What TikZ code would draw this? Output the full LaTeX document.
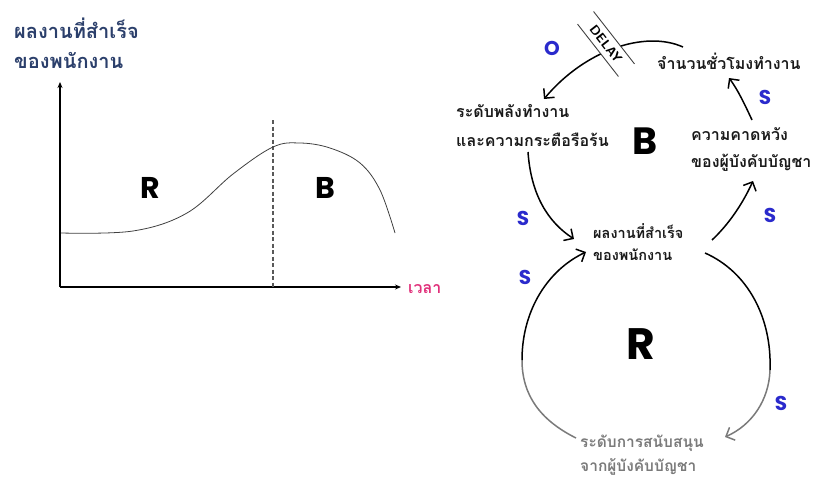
\documentclass[tikz,border=0pt]{standalone}
\usepackage{fontspec}
\usetikzlibrary{arrows.meta}
\newfontfamily\thaifont[Script=Thai]{Loma}
\newfontfamily\letterfont{Poppins}
\definecolor{navy}{HTML}{2B3F6B}
\definecolor{sblue}{HTML}{2A2ACC}
\definecolor{timepink}{HTML}{E0307A}
\definecolor{txt}{HTML}{1A1A1A}
\definecolor{light}{HTML}{7A7A7A}
\tikzset{
  axisline/.style={line width=1.3pt, -{Stealth[length=6pt,width=5pt]}},
  trendline/.style={line width=0.8pt, draw=black!75},
  divider/.style={line width=1.3pt, draw=black!65, dash pattern=on 4pt off 2.5pt},
  bigletter/.style={font=\letterfont\bfseries\fontsize{30}{30}\selectfont},
  loopletter/.style={font=\letterfont\bfseries\fontsize{44}{44}\selectfont},
  polarity/.style={text=sblue, font=\letterfont\bfseries\fontsize{20}{20}\selectfont},
  varlabel/.style={text=txt, align=left, anchor=west, inner sep=0pt},
  link/.style={line width=1.5pt, -{Straight Barb[length=7pt,width=14pt]}},
  linkplain/.style={line width=1.5pt},
  delayline/.style={line width=0.9pt, draw=black!75, shorten <=-9pt, shorten >=-9pt},
}
\begin{document}
\begin{tikzpicture}[x=1pt,y=-1pt]
\useasboundingbox (0,0) rectangle (822,482);
% ---------- left chart ----------
\node[anchor=west, inner sep=0pt, align=left, text=navy,
  font=\thaifont\bfseries\fontsize{20}{30}\selectfont] (ytitle) at (14,43) {ผลงานที่สำเร็จ\\ของพนักงาน};
\coordinate (origin) at (60,287);
\coordinate (ytop) at (60,82);
\coordinate (xend) at (401,287);
\draw[axisline] (origin) -- (ytop);
\draw[axisline] (origin) -- (xend);
\node[anchor=west, inner sep=0pt, text=timepink, font=\thaifont\bfseries\fontsize{16}{16}\selectfont] (timelbl) at (408,289) {เวลา};
\draw[divider] (273,120) -- (273,287);
\draw[trendline] plot[smooth, tension=0.6] coordinates {(61,233) (133,231) (187,213) (233,174) (273,147) (300,143) (330,148) (360,163) (380,190) (395,233)};
\node[bigletter] (chartR) at (150,188) {R};
\node[bigletter] (chartB) at (325,188) {B};
% ---------- right loop diagram ----------
\node[varlabel, font=\thaifont\bfseries\fontsize{16}{16}\selectfont] (hours) at (657,61) {จำนวนชั่วโมงทำงาน};
\node[varlabel, font=\thaifont\bfseries\fontsize{16}{29}\selectfont] (energy) at (456,126) {ระดับพลังทำงาน\\และความกระตือรือร้น};
\node[varlabel, font=\thaifont\bfseries\fontsize{16}{27}\selectfont] (expect) at (691,150) {ความคาดหวัง\\ของผู้บังคับบัญชา};
\node[varlabel, font=\thaifont\bfseries\fontsize{14.5}{22}\selectfont] (perf) at (593,242) {ผลงานที่สำเร็จ\\ของพนักงาน};
\node[varlabel, text=light, font=\thaifont\bfseries\fontsize{15.5}{24}\selectfont] (support) at (580,455) {ระดับการสนับสนุน\\จากผู้บังคับบัญชา};
\node[loopletter, font=\letterfont\bfseries\fontsize{38}{38}\selectfont] (loopB) at (645,141) {B};
\node[loopletter] (loopR) at (641,344) {R};
% connector end points
\coordinate (hoursOut) at (683,47);
\coordinate (energyIn) at (544,99);
\coordinate (expectOut) at (752,120);
\coordinate (hoursIn) at (729,78);
\coordinate (energyOut) at (528,152);
\coordinate (perfInL) at (574,239);
\coordinate (perfOutR) at (712,240);
\coordinate (expectIn) at (753,181);
\coordinate (perfOutB) at (705,253);
\coordinate (rightMid) at (770,370);
\coordinate (supportIn) at (725,437);
\coordinate (supportOut) at (576,438);
\coordinate (leftMid) at (522,360);
\coordinate (perfInB) at (586,252);
% hours -> energy with delay
\draw[link] (hoursOut) .. controls (645,30) and (585,50) .. (energyIn);
\node[rotate=-52, fill=white, inner xsep=2pt, inner ysep=0pt, minimum height=20pt,
  font=\sffamily\bfseries\fontsize{13}{13}\selectfont] (delay) at (606,44) {DELAY};
\draw[delayline] (delay.north west) -- (delay.north east);
\draw[delayline] (delay.south west) -- (delay.south east);
\node[polarity] (pO) at (552,48) {O};
% expectation -> hours
\draw[link] (expectOut) .. controls (745,105) and (738,90) .. (hoursIn);
\node[polarity] (pS1) at (765,97) {S};
% energy -> performance
\draw[link] (energyOut) .. controls (531,195) and (548,222) .. (perfInL);
\node[polarity] (pS2) at (523,218) {S};
% performance -> expectation
\draw[link] (perfOutR) .. controls (728,225) and (742,205) .. (expectIn);
\node[polarity] (pS3) at (770,215) {S};
% performance -> support (right half of R loop)
\draw[linkplain] (perfOutB) .. controls (748,272) and (772,318) .. (rightMid);
\draw[link, draw=light] (rightMid) .. controls (769,400) and (752,425) .. (supportIn);
\node[polarity] (pS5) at (781,403) {S};
% support -> performance (left half of R loop)
\draw[linkplain, draw=light] (supportOut) .. controls (540,420) and (522,395) .. (leftMid);
\draw[link] (leftMid) .. controls (522,310) and (548,270) .. (perfInB);
\node[polarity] (pS4) at (525,277) {S};
\end{tikzpicture}
\end{document}
